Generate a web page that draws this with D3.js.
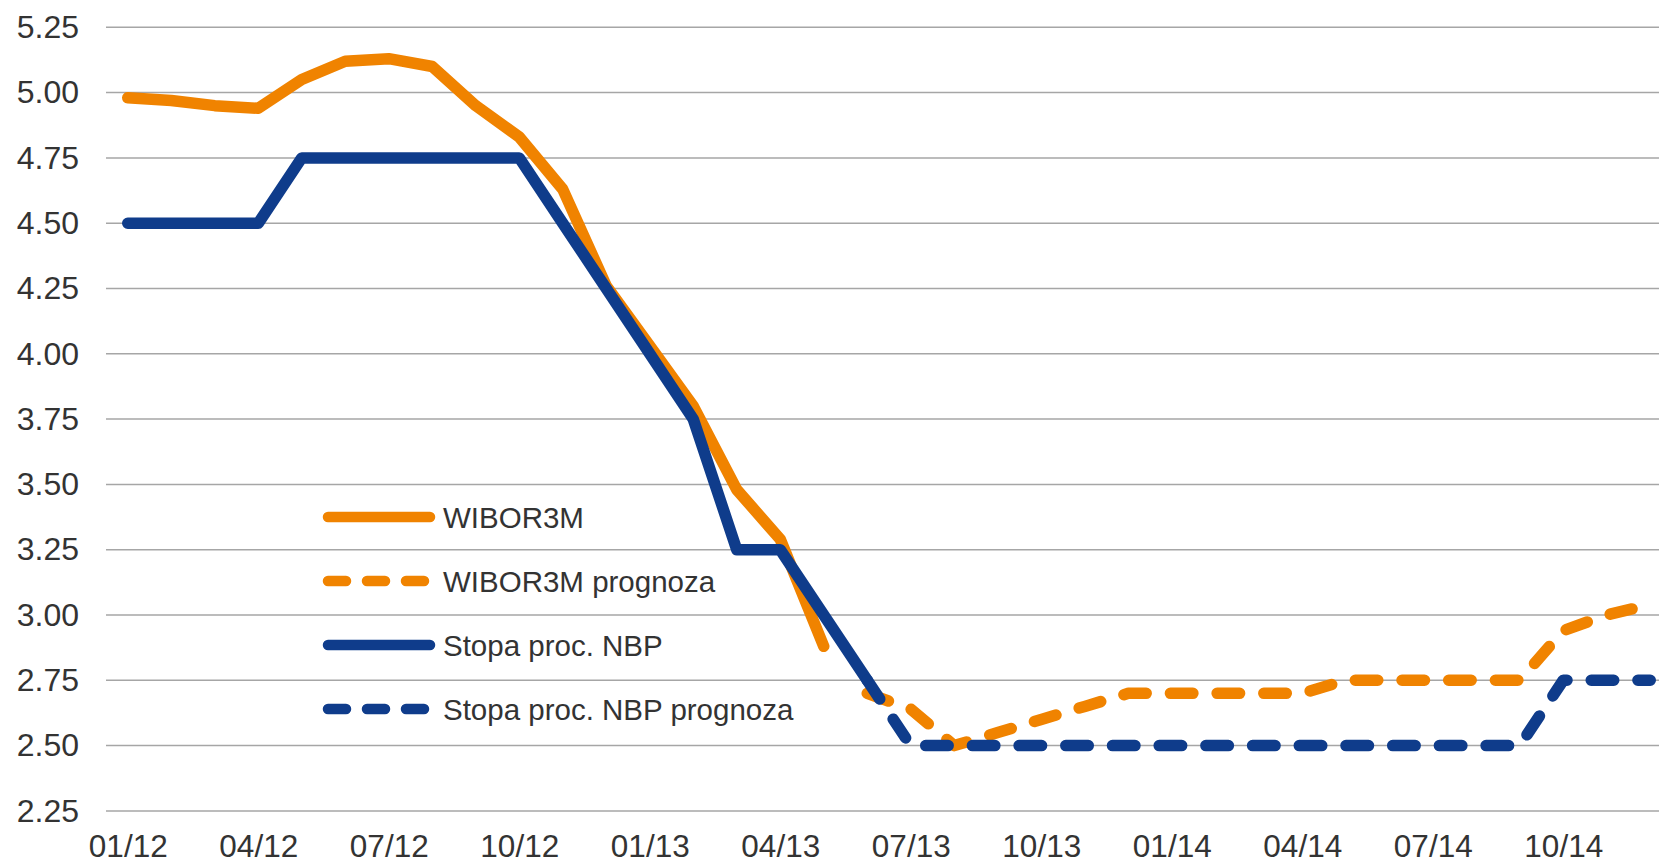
<!DOCTYPE html>
<html>
<head>
<meta charset="utf-8">
<script src="https://cdn.jsdelivr.net/npm/d3@7"></script>
<style>
  body { margin: 0; background: #fff; }
  svg { display: block; font-family: 'Liberation Sans', Arial, sans-serif; }
</style>
</head>
<body>
<svg id="chart"></svg>
<script>
const months = ['01/12', '02/12', '03/12', '04/12', '05/12', '06/12', '07/12', '08/12', '09/12', '10/12', '11/12', '12/12',
                '01/13', '02/13', '03/13', '04/13', '05/13', '06/13', '07/13', '08/13', '09/13', '10/13', '11/13', '12/13',
                '01/14', '02/14', '03/14', '04/14', '05/14', '06/14', '07/14', '08/14', '09/14', '10/14', '11/14', '12/14']

const tickMonths = ['01/12', '04/12', '07/12', '10/12', '01/13', '04/13', '07/13', '10/13', '01/14', '04/14', '07/14', '10/14']
const yTicks = [2.25, 2.5, 2.75, 3, 3.25, 3.5, 3.75, 4, 4.25, 4.5, 4.75, 5, 5.25]

const wibor = [4.98, 4.97, 4.95, 4.94, 5.05, 5.12, 5.13, 5.10, 4.95, 4.83, 4.63, 4.26,
               4.03, 3.80, 3.48, 3.29, 2.88, null, null, null, null, null, null, null,
               null, null, null, null, null, null, null, null, null, null, null, null]

const wiborForecast = [null, null, null, null, null, null, null, null, null, null, null, null,
                       null, null, null, null, null, 2.70, 2.64, 2.50, 2.55, 2.60, 2.65, 2.70,
                       2.70, 2.70, 2.70, 2.70, 2.75, 2.75, 2.75, 2.75, 2.75, 2.94, 3.00, 3.04]

const nbp = [4.50, 4.50, 4.50, 4.50, 4.75, 4.75, 4.75, 4.75, 4.75, 4.75, 4.50, 4.25,
             4.00, 3.75, 3.25, 3.25, 3.00, 2.75, null, null, null, null, null, null,
             null, null, null, null, null, null, null, null, null, null, null, null]

const nbpForecast = [null, null, null, null, null, null, null, null, null, null, null, null,
                     null, null, null, null, null, 2.75, 2.50, 2.50, 2.50, 2.50, 2.50, 2.50,
                     2.50, 2.50, 2.50, 2.50, 2.50, 2.50, 2.50, 2.50, 2.50, 2.75, 2.75, 2.75]

const seriesNames = ['WIBOR3M', 'WIBOR3M prognoza', 'Stopa proc. NBP', 'Stopa proc. NBP prognoza']

const orange = '#f08300'
const blue = '#0f3c8b'

const w = 1659
const h = 864
const left = 106
const right = 1672

const svg = d3.select('#chart')
              .attr('width', w)
              .attr('height', h)

const xScale = d3.scalePoint()
                 .domain(months)
                 .range([left, right])
                 .padding(0.5)

const yScale = d3.scaleLinear()
                 .domain([2.25, 5.25])
                 .range([810.9, 27.3])

// gridlines
svg.append('g')
   .selectAll('line')
   .data(yTicks)
   .enter()
   .append('line')
     .attr('x1', left)
     .attr('x2', right)
     .attr('y1', d => yScale(d))
     .attr('y2', d => yScale(d))
     .attr('stroke', '#a6a6a6')
     .attr('stroke-width', 1.5)

const yAxis = d3.axisLeft(yScale)
                .tickValues(yTicks)
                .tickFormat(d3.format('.2f'))
                .tickSize(0)
                .tickPadding(27)
svg.append('g')
   .attr('transform', 'translate(' + left + ', 0)')
   .call(yAxis)
   .call(g => g.select('.domain').remove())
   .selectAll('text')
     .attr('font-size', '32px')
     .attr('font-family', "'Liberation Sans', Arial, sans-serif")
     .attr('fill', '#333')

const xAxis = d3.axisBottom(xScale)
                .tickValues(tickMonths)
                .tickSize(0)
                .tickPadding(23.5)
svg.append('g')
   .attr('transform', 'translate(0, ' + yScale(2.25) + ')')
   .call(xAxis)
   .call(g => g.select('.domain').remove())
   .selectAll('text')
     .attr('font-size', '31.5px')
     .attr('font-family', "'Liberation Sans', Arial, sans-serif")
     .attr('fill', '#333')

const line = d3.line()
               .defined(d => d.v !== null)
               .x(d => xScale(d.m))
               .y(d => yScale(d.v))

const series = [
  { values: wibor, color: orange, dash: null },
  { values: wiborForecast, color: orange, dash: '22.5 24.2' },
  { values: nbp, color: blue, dash: null },
  { values: nbpForecast, color: blue, dash: '22.5 24.2' }
]

series.forEach(s => {
  svg.append('path')
     .datum(months.map((m, i) => ({ m: m, v: s.values[i] })))
     .attr('d', line)
     .attr('fill', 'none')
     .attr('stroke', s.color)
     .attr('stroke-width', 11.5)
     .attr('stroke-linecap', 'round')
     .attr('stroke-linejoin', 'round')
     .attr('stroke-dasharray', s.dash)
})

// legend
const legend = svg.append('g')
                  .attr('transform', 'translate(328, 517)')

legend.selectAll('g')
      .data(seriesNames)
      .enter()
      .append('g')
        .attr('transform', (d, i) => 'translate(0, ' + i * 64 + ')')
        .each(function (d, i) {
          const g = d3.select(this)
          g.append('line')
           .attr('x1', 0)
           .attr('x2', 102)
           .attr('stroke', series[i].color)
           .attr('stroke-width', 10.5)
           .attr('stroke-linecap', 'round')
           .attr('stroke-dasharray', series[i].dash ? '18 21' : null)
          g.append('text')
           .attr('x', 115)
           .attr('y', 10.5)
           .attr('font-size', '29.5px')
           .attr('fill', '#333')
           .text(d)
        })
</script>
</body>
</html>
